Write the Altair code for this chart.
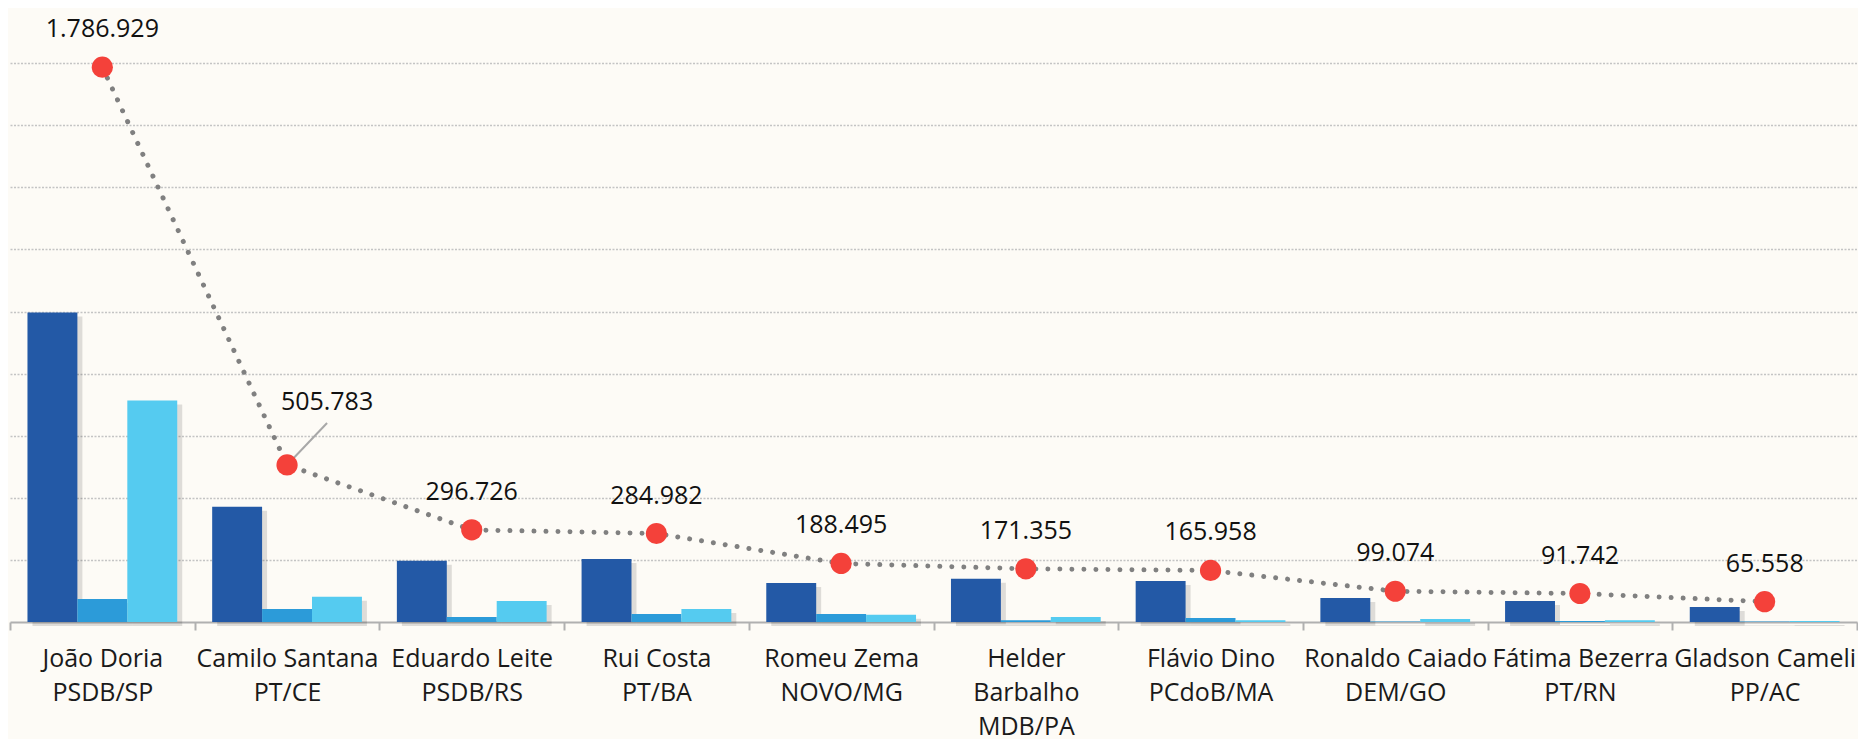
import altair as alt
import pandas as pd

# ---- data ----
names = ["João Doria", "Camilo Santana", "Eduardo Leite", "Rui Costa", "Romeu Zema",
         "Helder Barbalho", "Flávio Dino", "Ronaldo Caiado", "Fátima Bezerra", "Gladson Cameli"]
parties = ["PSDB/SP", "PT/CE", "PSDB/RS", "PT/BA", "NOVO/MG",
           "MDB/PA", "PCdoB/MA", "DEM/GO", "PT/RN", "PP/AC"]
line_values = [1786929, 505783, 296726, 284982, 188495, 171355, 165958, 99074, 91742, 65558]
line_text = ["1.786.929", "505.783", "296.726", "284.982", "188.495",
             "171.355", "165.958", "99.074", "91.742", "65.558"]
series_names = ["Série 1", "Série 2", "Série 3"]
s1 = [997000, 371000, 197000, 203000, 126000, 139000, 132000, 77000, 68000, 48000]
s2 = [74000, 42000, 16000, 26000, 26000, 6000, 13000, 1500, 3000, 1500]
s3 = [713000, 81000, 68000, 42000, 23000, 16000, 6000, 10000, 6000, 3000]
bar_colors = ["#2359A6", "#2C9BD9", "#55CBF0"]
wrap_names = {"Helder Barbalho"}

# ---- tables ----
labels = []
for n, p in zip(names, parties):
    shown = n.replace(" ", "|") if n in wrap_names else n
    labels.append(shown + "|" + p)

bar_rows = []
for i, lab in enumerate(labels):
    for sname, vals in zip(series_names, [s1, s2, s3]):
        bar_rows.append({"cand": lab, "serie": sname, "val": vals[i]})
bars_df = pd.DataFrame(bar_rows)

line_df = pd.DataFrame({"cand": labels, "val": line_values, "txt": line_text,
                        "idx": list(range(len(labels)))})

FONT = "Open Sans"
W, H = 1847, 621
BAND = W / len(labels)

x_enc = alt.X("cand:N", sort=labels,
              scale=alt.Scale(paddingInner=0, paddingOuter=0),
              axis=alt.Axis(title=None,
                            labelExpr="isValid(datum.value) ? split(datum.value, '|') : ''",
                            labelFont=FONT, labelFontSize=25, labelColor="#1a1a1a",
                            labelPadding=16, labelLineHeight=34, labelAngle=0,
                            labelLimit=400,
                            tickBand="extent", tickSize=8, tickColor="#b0b0b0",
                            tickWidth=2, domainColor="#b0b0b0", domainWidth=2,
                            grid=False, labelOverlap=False))
y_enc = alt.Y("val:Q", scale=alt.Scale(domain=[0, 2000000], nice=False),
              axis=alt.Axis(title=None, labels=False, ticks=False, domain=False,
                            grid=True, values=[200000 * i for i in range(1, 11)],
                            gridColor="#c4c4c4", gridDash=[2, 1.5], gridWidth=1.5))

xoff = alt.XOffset("serie:N", sort=series_names,
                   scale=alt.Scale(paddingOuter=0.35, paddingInner=0))
xoff_shadow = alt.XOffset("serie:N", sort=series_names,
                          scale=alt.Scale(paddingOuter=0.35, paddingInner=0,
                                          range=[5, BAND + 5]))

shadow = alt.Chart(bars_df).mark_bar(color="#000000", opacity=0.12, yOffset=4).encode(
    x=x_enc, y=y_enc, xOffset=xoff_shadow)

bars = alt.Chart(bars_df).mark_bar().encode(
    x=x_enc, y=y_enc, xOffset=xoff,
    color=alt.Color("serie:N", sort=series_names,
                    scale=alt.Scale(domain=series_names, range=bar_colors), legend=None),
)

line = alt.Chart(line_df).mark_line(color="#808080", strokeWidth=5, strokeDash=[0.01, 12],
                                    strokeCap="round").encode(x=x_enc, y=y_enc)

leader = alt.Chart(line_df).transform_filter("datum.idx == 1").mark_rule(
    color="#a8a8a8", strokeWidth=2, x2Offset=40, y2Offset=-42).encode(
    x=x_enc, x2="cand:N", y=y_enc, y2="val:Q")

points = alt.Chart(line_df).mark_circle(color="#F4413A", opacity=1, size=450).encode(
    x=x_enc, y=y_enc)

texts = alt.Chart(line_df).transform_filter("datum.idx != 1").mark_text(
    font=FONT, fontSize=25, color="#111111", dy=-38, baseline="middle").encode(
    x=x_enc, y=y_enc, text="txt:N")

text_camilo = alt.Chart(line_df).transform_filter("datum.idx == 1").mark_text(
    font=FONT, fontSize=25, color="#111111", dx=40, dy=-63, baseline="middle").encode(
    x=x_enc, y=y_enc, text="txt:N")

chart = alt.layer(shadow, bars, line, leader, points, texts, text_camilo).resolve_scale(
    xOffset="independent"
).properties(
    width=W, height=H,
    padding={"left": 1, "top": -7, "right": 0, "bottom": 0},
    background="#FDFBF6",
).configure_view(stroke=None)

chart.save("out.html", embed_options={"renderer": "svg", "actions": False})
